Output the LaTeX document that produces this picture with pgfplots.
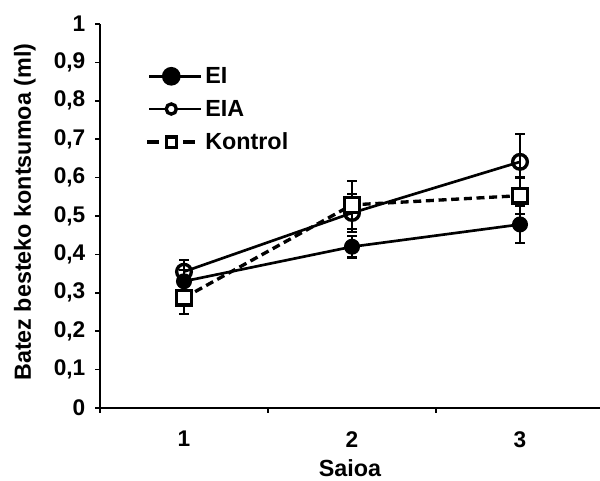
\documentclass[border=0pt]{standalone}
\usepackage{pgfplots}
\pgfplotsset{compat=1.18}
\usepackage{fontspec}
\setmainfont{Liberation Sans}
\begin{document}
\begin{tikzpicture}
\path[use as bounding box] (-75pt,-54pt) rectangle (375pt,306pt);
\begin{axis}[
  at={(0pt,0pt)}, anchor=south west,
  scale only axis, width=378pt, height=288pt,
  xmin=0.5, xmax=3.5, ymin=0, ymax=1,
  axis x line*=bottom, axis y line*=left,
  axis line style={line width=1.3pt},
  tick style={line width=1.3pt, black},
  tick align=outside, major tick length=3.5pt,
  ytick={0,0.1,0.2,0.3,0.4,0.5,0.6,0.7,0.8,0.9,1},
  yticklabel style={xshift=-4pt},
  xtick={0.5,1.5,2.5,3.5}, xticklabels={,,,},
  extra x ticks={1,2,3}, extra x tick labels={1,2,3},
  extra x tick style={major tick length=0pt, xticklabel style={yshift=-14pt}},
  /pgf/number format/assume math mode=true,
  /pgf/number format/use comma,
  ticklabel style={font=\bfseries\fontsize{17}{20}\selectfont},
  every axis y label/.style={at={(axis description cs:-0.149,0.51)}, rotate=90, anchor=center},
  every axis x label/.style={at={(axis description cs:0.496,-0.156)}, anchor=center},
  label style={font=\bfseries\fontsize{17.5}{20}\selectfont},
  xlabel={Saioa}, ylabel={Batez besteko kontsumoa (ml)},
  legend style={at={(axis description cs:0.09,0.895)}, anchor=north west, draw=none, fill=none,
    font=\bfseries\fontsize{17.5}{20}\selectfont, row sep=7pt, inner sep=0pt},
  legend cell align=left,
  error bars/error bar style={solid, line width=1.7pt, black},
  error bars/error mark options={rotate=90, mark size=3.4pt, line width=1.7pt, black, solid},
]
\addplot[black, line width=2pt, mark=*, mark size=5.5pt, mark options={solid, fill=black, line width=1pt},
  legend image code/.code={\draw[solid, line width=2pt] (0pt,0pt)--(39pt,0pt); \fill (16.5pt,0pt) circle (6pt);},
  error bars/.cd, y dir=both, y explicit]
  coordinates {(1,0.330) +- (0,0.030) (2,0.420) +- (0,0.028) (3,0.478) +- (0,0.048)};
\addlegendentry{EI}
\addplot[black, line width=2pt, mark=o, mark size=5.5pt, mark options={solid, fill=white, line width=2.5pt},
  legend image code/.code={\draw[solid, line width=2pt] (0pt,0pt)--(39pt,0pt); \draw[solid, line width=2.5pt, fill=white] (16.5pt,0pt) circle (3.8pt);},
  error bars/.cd, y dir=both, y explicit]
  coordinates {(1,0.355) +- (0,0.030) (2,0.508) +- (0,0.050) (3,0.641) +- (0,0.072)};
\addlegendentry{EIA}
\addplot[black, line width=2.5pt, dash pattern=on 6pt off 3.5pt, mark=square*, mark size=5.5pt, mark options={solid, fill=white, line width=2.5pt},
  legend image code/.code={\draw[solid, line width=2.5pt] (-1.5pt,0pt)--(7.5pt,0pt); \draw[solid, line width=2.5pt] (25.5pt,0pt)--(34.5pt,0pt); \draw[solid, line width=2.5pt, fill=white] (12.7pt,-3.8pt) rectangle (20.3pt,3.8pt);},
  error bars/.cd, y dir=both, y explicit]
  coordinates {(1,0.287) +- (0,0.043) (2,0.529) +- (0,0.062) (3,0.553) +- (0,0.047)};
\addlegendentry{Kontrol}
\end{axis}
\end{tikzpicture}
\end{document}
